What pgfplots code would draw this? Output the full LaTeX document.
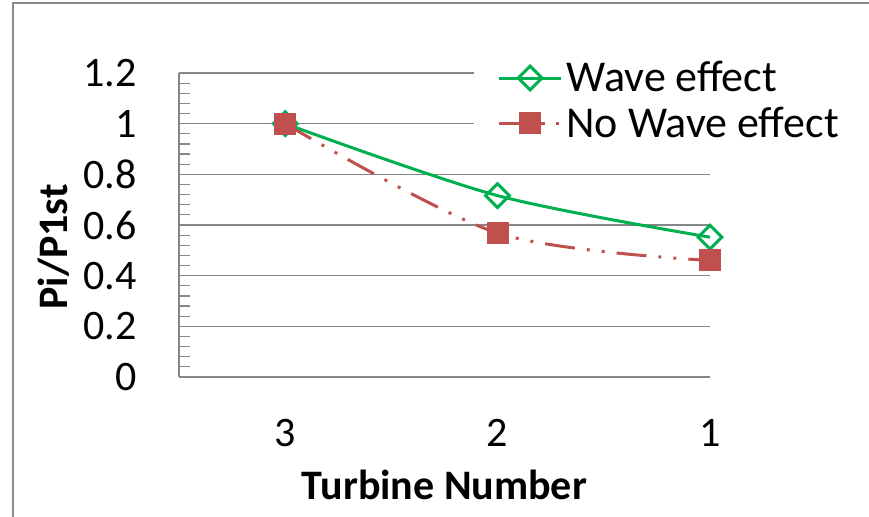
\documentclass[border=0pt]{standalone}
\usepackage{pgfplots}
\pgfplotsset{compat=1.18}
\usepackage{fontspec}
\setmainfont{Carlito}
\definecolor{wgreen}{RGB}{0,176,80}
\definecolor{nred}{RGB}{192,80,77}
\definecolor{gridgray}{RGB}{134,134,134}
\definecolor{framegray}{RGB}{140,140,140}

\begin{document}
\begin{tikzpicture}
\useasboundingbox (-89.5pt,-69.5pt) rectangle (345pt,188.5pt);
\draw[framegray, line width=1pt] (-83pt,-80pt) -- (-83pt,187pt) -- (360pt,187pt);
\begin{axis}[
  at={(0pt,0pt)}, anchor=south west,
  scale only axis, width=265.5pt, height=152pt,
  xmin=1, xmax=3.5, x dir=reverse,
  ymin=0, ymax=1.2,
  clip=false,
  xtick={1,2,3}, xticklabels={1,2,3},
  ytick={0,0.2,0.4,0.6,0.8,1,1.2},
  yticklabels={0,0.2,0.4,0.6,0.8,1,1.2},
  minor y tick num=4,
  axis x line*=bottom, axis y line*=left,
  axis line style={gridgray, line width=0.6pt, -},
  ymajorgrids, major grid style={gridgray, line width=0.6pt},
  tick align=inside,
  major tick length=0pt, minor tick length=5.5pt,
  minor tick style={gridgray, line width=0.6pt},
  tick label style={font=\fontsize{21}{25}\selectfont, inner sep=0pt},
  yticklabel style={anchor=east, xshift=-21pt},
  xticklabel style={anchor=north, yshift=-21pt},
  xlabel={Turbine Number},
  xlabel style={at={(axis description cs:0.5,-0.305)}, anchor=north, inner sep=0pt, font=\fontsize{21}{25}\selectfont\bfseries},
  ylabel={Pi/P1st},
  ylabel style={at={(axis description cs:-0.2354,0.428)}, anchor=center, inner sep=0pt, font=\fontsize{21}{25}\selectfont\bfseries},
  legend style={at={(rel axis cs:0.554,1.066)}, anchor=north west, draw=none, fill=white,
    font=\fontsize{22}{26}\selectfont, inner xsep=12pt, inner ysep=2pt,
    row sep=2pt, /tikz/every even column/.append style={column sep=4pt}},
  legend cell align=left,
  legend image code/.code={\draw[#1, mark repeat=2, mark phase=2] plot coordinates {(0pt,0pt) (15.5pt,0pt) (31pt,0pt)};},
]
\addplot[wgreen, line width=1.5pt, smooth, tension=0.5, mark=square, mark size=4.2pt,
  mark options={rotate=45, fill=white, solid, line width=1.5pt}]
  coordinates {(3,1) (2,0.716) (1,0.552)};
\addlegendentry{Wave effect}
\addplot[nred, line width=1.5pt, smooth, tension=0.5,
  dash pattern=on 15pt off 6pt on 1.5pt off 6pt on 1.5pt off 6pt,
  mark=square*, mark size=4.75pt, mark options={solid, fill=nred}]
  coordinates {(3,1) (2,0.568) (1,0.46)};
\addlegendentry{No Wave effect}
\end{axis}
\end{tikzpicture}
\end{document}
